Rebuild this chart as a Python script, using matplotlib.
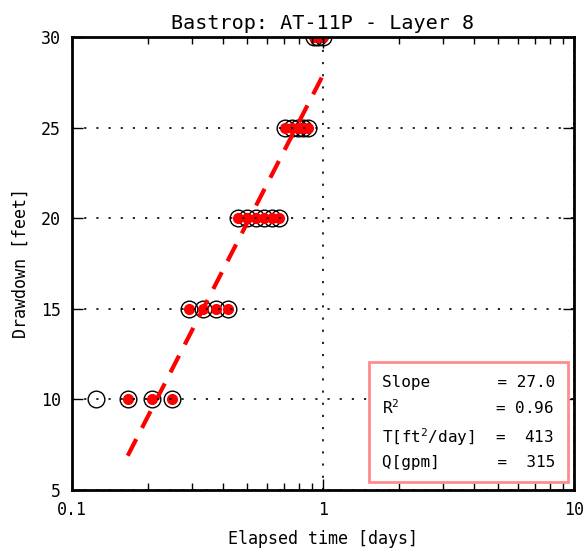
import numpy as np
import matplotlib.pyplot as plt

plt.rcParams['font.family'] = 'DejaVu Sans Mono'
plt.rcParams['mathtext.fontset'] = 'custom'
plt.rcParams['mathtext.rm'] = 'DejaVu Sans Mono'
plt.rcParams['mathtext.default'] = 'regular'

# pumping test record: elapsed hours and drawdown in feet
elapsed_hours = [3, 4, 5, 6, 7, 8, 9, 10, 11, 12, 13, 14, 15, 16,
                 17, 18, 19, 20, 21, 22, 23, 24]
drawdown = [10, 10, 10, 10, 15, 15, 15, 15, 20, 20, 20, 20, 20, 20,
            25, 25, 25, 25, 25, 30, 30, 30]
fit_start = 1          # first point used in the straight-line fit

slope = 27.0           # feet per log cycle
intercept = 27.9       # drawdown at t = 1 day
r2 = 0.96
transmissivity = 413
pump_rate = 315

t = np.array(elapsed_hours) / 24.0
s = np.array(drawdown, dtype=float)

fig = plt.figure(figsize=(5.85, 5.52), dpi=100)
ax = fig.add_axes([0.1231, 0.1123, 0.8581, 0.8207])

ax.plot(t, s, 'o', ms=12, mfc='none', mec='k', mew=1.0)
ax.plot(t[fit_start:], s[fit_start:], 'o', ms=7, mfc='red', mec='red')

tf = np.array([t[fit_start], 1.0])
ax.plot(tf, intercept + slope * np.log10(tf), color='red', lw=3,
        dashes=(4.5, 3))

ax.set_xscale('log')
ax.set_xlim(0.1, 10)
ax.set_ylim(5, 30)
ax.set_xticks([0.1, 1, 10])
ax.set_xticklabels(['0.1', '1', '10'])
ax.set_yticks([5, 10, 15, 20, 25, 30])

ax.set_axisbelow(False)
ax.grid(True, which='major', color='k', lw=1.2, dashes=(1.3, 6))
ax.tick_params(which='both', direction='in', top=True, right=True,
               labelsize=12, pad=8)
ax.tick_params(which='major', length=8, width=1)
ax.tick_params(which='minor', length=5, width=1)
for sp in ax.spines.values():
    sp.set_linewidth(2)

ax.set_title('Bastrop: AT-11P - Layer 8', fontsize=14.5, pad=6)
ax.set_xlabel('Elapsed time [days]', fontsize=12, labelpad=8)
ax.set_ylabel('Drawdown [feet]', fontsize=12, labelpad=8)

info = ('Slope       = %.1f\n' % slope +
        'R$^2$          = %.2f\n' % r2 +
        'T[ft$^2$/day]  =  %d\n' % transmissivity +
        'Q[gpm]      =  %d' % pump_rate)
ax.text(0.962, 0.045, info, transform=ax.transAxes, ha='right', va='bottom',
        multialignment='left', fontsize=11.5, linespacing=1.55,
        bbox=dict(boxstyle='square,pad=0.8', fc='white',
                  ec=(1, 0.55, 0.55), lw=2))

fig.savefig('out.png', dpi=100)
